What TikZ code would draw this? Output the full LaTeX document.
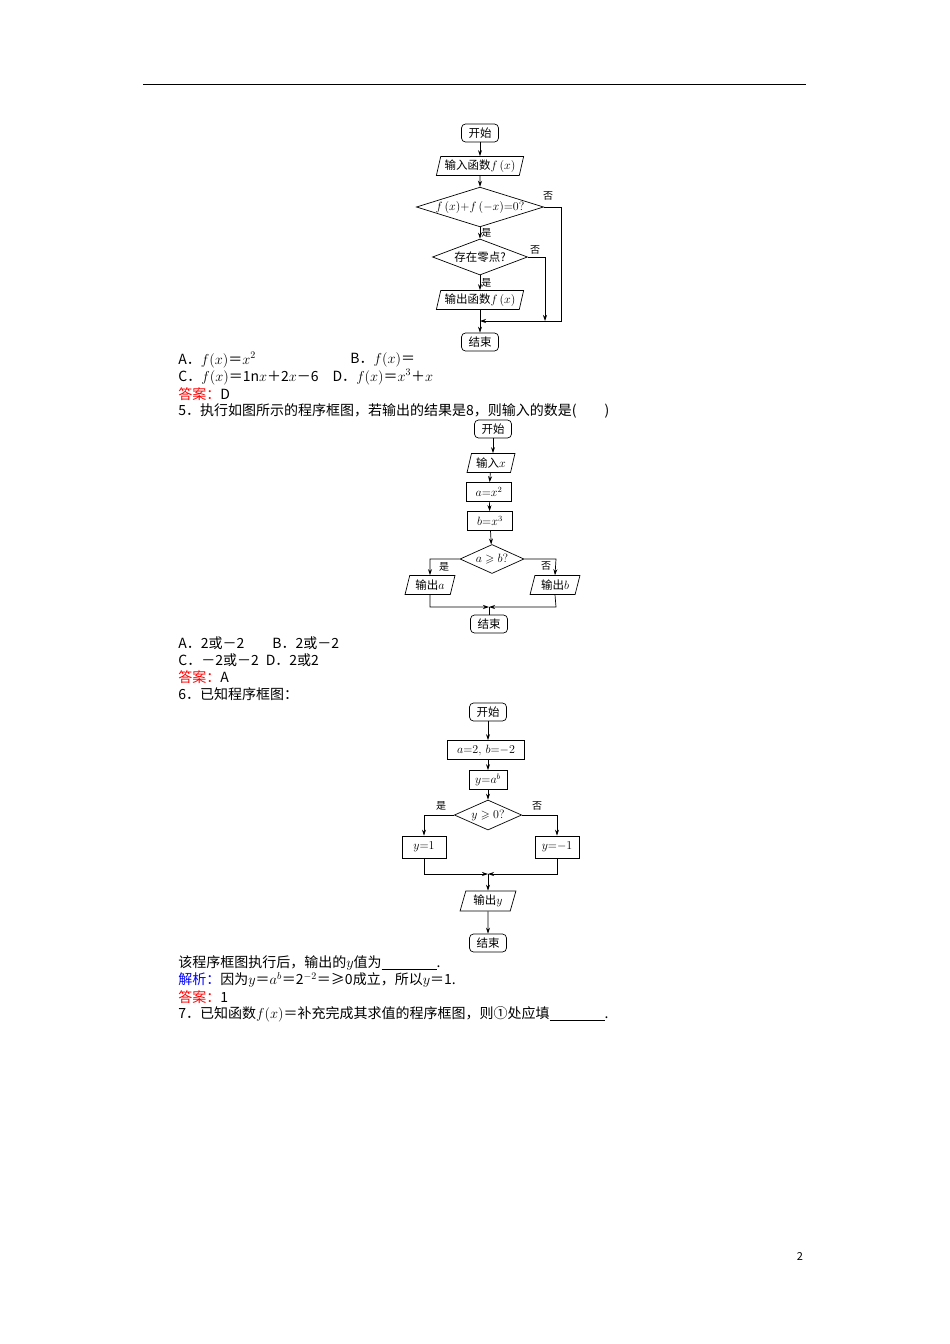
\documentclass[tikz,border=0pt]{standalone}
\usepackage{amssymb}
\usepackage{fontspec}
\setmainfont{Noto Sans CJK SC}
\usetikzlibrary{shapes.geometric,arrows.meta}
\begin{document}
\begin{tikzpicture}[x=1pt,y=-1pt,
  every node/.style={font=\fontsize{11.5}{12}\selectfont, inner sep=1pt},
  term/.style={draw, rounded corners=4pt, minimum width=37pt, minimum height=18pt},
  io/.style={draw, trapezium, trapezium left angle=75, trapezium right angle=105, trapezium stretches=true, minimum height=19pt, inner xsep=0pt},
  proc/.style={draw, minimum height=19pt},
  dec/.style={draw, diamond, aspect=3.2, inner sep=0pt},
  lbl/.style={font=\fontsize{10}{11}\selectfont},
  txt/.style={anchor=west, font=\fontsize{14}{15}\selectfont, inner sep=0pt},
  arr/.style={-{Stealth[length=6pt,width=4pt]}},
  line width=0.7pt]
\useasboundingbox (0,0) rectangle (950,1344);
\draw (143,84) -- (806,84);
% chart 1
\node[term] (s1) at (480,133) {开始};
\node[io, minimum width=88pt] (i1) at (480,166) {输入函数$f\,(x)$};
\node[dec, minimum width=112pt, minimum height=35pt] (d1) at (480,207) {$f\,(x){+}f\,({-}x){=}0?$};
\node[dec, minimum width=95pt, minimum height=36pt] (d2) at (480,257) {存在零点?};
\node[io, minimum width=88pt] (o1) at (480,300) {输出函数$f\,(x)$};
\node[term] (e1) at (480,342) {结束};
\coordinate (m1) at (480,321);
\draw[arr] (s1) -- (i1);
\draw[arr] (i1) -- (d1);
\draw[arr] (d1) -- (d2) node[lbl, pos=0.5, right] {是};
\draw[arr] (d2) -- (o1) node[lbl, pos=0.5, right] {是};
\draw (o1) -- (m1);
\draw[arr] (m1) -- (e1);
\draw[arr] (d1.east) -- (561,207) -- (561,321) -- (m1);
\node[lbl] (n1) at (548,196) {否};
\draw[arr] (d2.east) -- (545,257) -- (545,321);
\node[lbl] (n2) at (535,250) {否};
% text
\node[txt] (t1) at (178,360) {A．$f(x)$＝$x^2$};
\node[txt] (t1b) at (350,360) {B．$f(x)$＝};
\node[txt] (t2) at (178,377) {C．$f(x)$＝1n$x$＋2$x$－6\quad D．$f(x)$＝$x^3$＋$x$};
\node[txt, red] (t3) at (178,394) {答案：\textcolor{black}{D}};
\node[txt] (t4) at (178,411) {5．执行如图所示的程序框图，若输出的结果是8，则输入的数是(\qquad)};
% chart 2
\node[term] (s2) at (493,429) {开始};
\node[io, minimum width=48pt] (i2) at (491,463) {输入$x$};
\node[proc, minimum width=45pt] (p1) at (489,492) {$a{=}x^2$};
\node[proc, minimum width=45pt] (p2) at (490,521) {$b{=}x^3$};
\node[dec, minimum width=61pt, minimum height=29pt] (d3) at (492,559) {$a\geqslant b?$};
\node[io, minimum width=50pt] (oa) at (430,585) {输出$a$};
\node[io, minimum width=50pt] (ob) at (555,585) {输出$b$};
\node[term] (e2) at (489,624) {结束};
\coordinate (m2) at (489,607);
\draw[arr] (s2) -- (i2.north -| s2);
\draw[arr] (i2) -- (p1);
\draw[arr] (p1) -- (p2);
\draw[arr] (p2) -- (d3);
\draw[arr] (d3.west) -- (430,559) -- (oa.north);
\draw[arr] (d3.east) -- (556,559) -- (ob.north);
\node[lbl] (n3) at (444,567) {是};
\node[lbl] (n4) at (546,566) {否};
\draw[arr] (oa.south) -- (430,607) -- (m2);
\draw[arr] (ob.south) -- (556,607) -- (m2);
\draw (m2) -- (e2);
\node[txt] (t5) at (178,643) {A．2或－2\qquad B．2或－2};
\node[txt] (t6) at (178,660) {C．－2或－2\enspace D．2或2};
\node[txt, red] (t7) at (178,677) {答案：\textcolor{black}{A}};
\node[txt] (t8) at (178,694) {6．已知程序框图：};
% chart 3
\node[term] (s3) at (488,712) {开始};
\node[proc, minimum width=77pt] (p3) at (486,750) {$a{=}2,\,b{=}{-}2$};
\node[proc, minimum width=38pt] (p4) at (488,780) {$y{=}a^b$};
\node[dec, minimum width=60pt, minimum height=30pt] (d4) at (488,815) {$y\geqslant 0?$};
\node[proc, minimum width=44pt, minimum height=22pt] (y1) at (424,847) {$y{=}1$};
\node[proc, minimum width=44pt, minimum height=22pt] (y2) at (557,847) {$y{=}{-}1$};
\node[io, minimum width=56pt, minimum height=20pt] (o3) at (488,901) {输出$y$};
\node[term] (e3) at (488,943) {结束};
\coordinate (m3) at (488,874);
\draw[arr] (s3) -- (p3.north -| s3);
\draw[arr] (p3.south -| p4) -- (p4);
\draw[arr] (p4) -- (d4);
\draw[arr] (d4.west) -- (424,815) -- (y1.north);
\draw[arr] (d4.east) -- (557,815) -- (y2.north);
\node[lbl] (n5) at (441,806) {是};
\node[lbl] (n6) at (537,806) {否};
\draw[arr] (y1.south) -- (424,874) -- (m3);
\draw[arr] (y2.south) -- (557,874) -- (m3);
\draw[arr] (m3) -- (o3);
\draw[arr] (o3) -- (e3);
\node[txt] (t9) at (178,963) {该程序框图执行后，输出的$y$值为\underline{\hspace{55pt}}.};
\node[txt, blue] (t10) at (178,980) {解析：\textcolor{black}{因为$y$＝$a^b$＝2$^{-2}$＝≥0成立，所以$y$＝1.}};
\node[txt, red] (t11) at (178,997) {答案：\textcolor{black}{1}};
\node[txt] (t12) at (178,1014) {7．已知函数$f(x)$＝补充完成其求值的程序框图，则①处应填\underline{\hspace{55pt}}.};
\node[font=\fontsize{11}{12}\selectfont] (pg) at (800,1256) {2};
\end{tikzpicture}
\end{document}
